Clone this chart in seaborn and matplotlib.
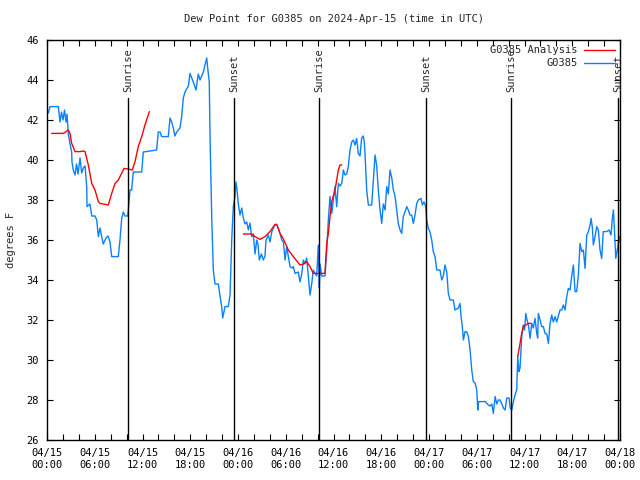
import numpy as np
import pandas as pd
import matplotlib
matplotlib.use("Agg")
import matplotlib.pyplot as plt
import seaborn as sns

# hours since 2024-04-15 00:00 UTC
blue_hours = [0.16, 0.38, 1.42, 1.63, 1.82, 2.01, 2.20, 2.39, 2.51, 2.68, 2.89, 3.10, 3.14, 3.30, 3.52,
              3.71, 3.90, 4.15, 4.36, 4.56, 4.78, 4.99, 5.03, 5.40, 5.62, 6.03, 6.25, 6.45, 6.66, 6.87,
              7.07, 7.41, 7.67, 7.92, 8.13, 8.96, 9.17, 9.39, 9.59, 9.80, 10.14, 10.22, 10.43, 10.64,
              10.84, 11.90, 12.10, 13.78, 13.98, 14.20, 14.41, 15.24, 15.46, 15.67, 15.87, 16.08, 16.30,
              16.71, 16.93, 17.13, 17.34, 17.76, 17.97, 18.38, 18.72, 19.01, 19.23, 19.64, 19.85, 20.07,
              20.19, 20.39, 20.48, 20.57, 20.70, 20.90, 21.11, 21.53, 21.74, 21.95, 22.08, 22.37, 22.78,
              23.00, 23.21, 23.41, 23.62, 23.75, 23.88, 24.04, 24.25, 24.47, 24.67, 24.88, 25.10, 25.30,
              25.51, 25.72, 25.92, 26.14, 26.35, 26.51, 26.68, 26.95, 27.18, 27.39, 27.52, 27.81, 28.02,
              28.24, 28.44, 28.65, 28.87, 29.07, 29.28, 29.50, 29.70, 29.91, 30.12, 30.32, 30.54, 30.75,
              30.95, 31.16, 31.58, 31.79, 32.01, 32.21, 32.42, 32.63, 32.84, 33.05, 33.26, 33.46, 33.68,
              33.89, 34.09, 34.22, 34.31, 34.52, 34.93, 35.15, 35.35, 35.56, 35.78, 35.98, 36.19, 36.40,
              36.61, 36.82, 37.04, 37.24, 37.45, 37.66, 37.86, 38.08, 38.29, 38.49, 38.70, 38.91, 39.11,
              39.33, 39.54, 39.74, 39.87, 39.96, 40.17, 40.38, 40.80, 41.01, 41.22, 41.43, 41.63, 41.85,
              42.06, 42.26, 42.48, 42.69, 42.89, 43.10, 43.32, 43.52, 43.73, 43.94, 44.14, 44.36, 44.57,
              44.77, 44.98, 45.20, 45.40, 45.61, 45.83, 46.03, 46.24, 46.46, 46.66, 47.00, 47.16, 47.37,
              47.59, 47.71, 47.91, 48.13, 48.34, 48.54, 48.76, 48.97, 49.38, 49.60, 49.80, 50.01, 50.23,
              50.43, 50.64, 51.06, 51.27, 51.69, 51.90, 52.03, 52.19, 52.32, 52.53, 52.75, 52.95, 53.16,
              53.37, 53.57, 53.79, 54.00, 54.13, 54.23, 55.06, 55.46, 55.68, 55.89, 56.09, 56.31, 56.52,
              56.72, 56.93, 57.15, 57.35, 57.56, 57.77, 58.06, 58.19, 58.40, 58.60, 58.81, 59.02, 59.15,
              59.31, 59.44, 59.65, 59.85, 60.01, 60.16, 60.32, 60.49, 60.70, 60.91, 61.11, 61.32, 61.54,
              61.66, 61.74, 61.96, 62.17, 62.37, 62.58, 62.80, 63.00, 63.21, 63.42, 63.62, 63.84, 64.05,
              64.25, 64.46, 64.68, 64.88, 65.09, 65.31, 65.51, 65.72, 65.93, 66.14, 66.35, 66.56, 66.77,
              66.98, 67.19, 67.40, 67.61, 67.82, 68.03, 68.24, 68.37, 68.53, 68.65, 68.86, 69.08, 69.28,
              69.49, 69.70, 69.90, 70.33, 70.62, 70.87, 71.04, 71.17, 71.30, 71.47, 71.73, 71.89, 71.95]
blue_dewpt = [42.35, 42.67, 42.67, 41.9, 42.4, 42.0, 42.5, 41.9, 42.3, 41.3, 40.8, 40.4, 39.9, 39.5, 39.25,
              39.8, 39.3, 40.1, 39.35, 39.6, 39.7, 38.67, 37.67, 37.8, 37.2, 37.2, 37.0, 36.17, 36.6, 36.17,
              35.8, 36.1, 36.2, 35.9, 35.17, 35.17, 36.0, 37.1, 37.4, 37.2, 37.2, 37.5, 38.5, 38.5,
              39.4, 39.4, 40.4, 40.5, 41.4, 41.4, 41.17, 41.17, 42.1, 41.9, 41.6, 41.2, 41.4,
              41.6, 42.2, 43.1, 43.4, 43.7, 44.33, 43.9, 43.5, 44.3, 44.0, 44.4, 44.75, 45.1,
              44.6, 43.9, 41.3, 39.6, 37.1, 34.5, 33.8, 33.8, 33.2, 32.67, 32.1, 32.67, 32.67,
              33.25, 36.0, 37.67, 38.17, 38.9, 38.5, 37.8, 37.25, 37.6, 37.1, 36.8, 36.9, 36.5,
              36.85, 36.17, 36.3, 35.3, 36.0, 35.8, 35.0, 35.3, 35.0, 35.2, 36.0, 36.25, 35.9,
              36.4, 36.6, 36.75, 36.75, 36.6, 36.33, 36.0, 35.9, 35.0, 35.67, 35.2, 34.67, 34.6,
              34.67, 34.33, 34.4, 33.9, 34.3, 35.0, 34.8, 35.1, 34.2, 33.25, 33.8, 34.5, 34.33,
              34.2, 35.75, 33.6, 34.8, 34.2, 34.2, 35.5, 37.0, 38.17, 37.33, 38.0, 38.67, 37.67,
              38.83, 38.7, 38.83, 39.5, 39.25, 39.3, 39.67, 40.5, 40.9, 41.0, 40.75, 41.08, 40.33,
              40.2, 41.1, 41.2, 40.9, 40.33, 38.5, 37.75, 37.75, 39.0, 40.25, 39.7, 38.5, 37.5,
              36.83, 37.8, 37.5, 38.67, 38.3, 39.5, 39.1, 38.5, 38.2, 37.5, 36.83, 36.5, 36.33,
              37.17, 37.4, 37.67, 37.5, 37.25, 37.25, 36.83, 37.25, 37.83, 38.0, 38.08, 37.75, 37.9,
              37.67, 37.0, 36.58, 36.4, 36.0, 35.42, 35.17, 34.5, 34.5, 34.0, 34.2, 34.75, 34.4,
              33.33, 33.0, 33.0, 32.5, 32.6, 32.83, 32.17, 31.67, 31.0, 31.42, 31.4, 31.17, 30.5,
              29.5, 28.92, 28.85, 28.5, 27.5, 27.92, 27.92, 27.75, 27.7, 27.8, 27.33, 28.17, 27.8,
              28.0, 28.0, 27.8, 27.6, 27.5, 28.1, 28.1, 27.6, 27.5, 27.9, 28.25, 28.5, 30.17,
              29.42, 29.6, 31.17, 31.75, 31.5, 32.33, 32.0, 31.75, 31.08, 31.83, 31.6, 32.08, 31.33,
              31.1, 32.33, 32.0, 31.67, 31.67, 31.33, 31.3, 30.83, 31.83, 32.25, 31.9, 32.17, 31.9,
              32.2, 32.5, 32.5, 32.75, 32.5, 33.17, 33.58, 33.5, 34.17, 34.75, 33.42, 33.42, 34.25,
              35.83, 35.42, 35.5, 34.58, 36.25, 36.42, 36.75, 37.08, 36.6, 35.75, 36.17, 36.67, 36.5,
              35.5, 35.08, 36.42, 36.42, 36.5, 36.25, 37.08, 37.5, 36.5, 35.08, 35.67, 36.17, 35.9]

red_hours = [0.59, 2.05, 2.68, 2.89, 3.10, 3.52, 4.15, 4.56, 4.78, 5.19, 5.62, 6.03, 6.45, 6.66, 7.70,
             8.13, 8.55, 8.96, 9.68, 10.22, 10.72, 11.06, 11.47, 11.90, 12.31, 12.86,
             24.67, 25.72, 26.14, 26.77, 27.39, 28.02, 28.65, 28.87, 29.28, 29.70, 30.32, 30.95, 31.79,
             32.21, 32.63, 33.05, 33.46, 34.93, 35.15, 35.35, 35.56, 35.78, 36.19, 36.40, 36.61, 36.82, 37.04,
             59.15, 59.44, 59.65, 59.85, 60.16, 60.49, 60.82]
red_dewpt = [41.33, 41.33, 41.5, 41.33, 40.83, 40.42, 40.42, 40.45, 40.42, 39.75, 38.83, 38.5, 37.92, 37.83, 37.75,
             38.33, 38.83, 39.0, 39.58, 39.55, 39.5, 39.92, 40.67, 41.17, 41.75, 42.42,
             36.3, 36.3, 36.17, 36.03, 36.17, 36.42, 36.78, 36.78, 36.33, 36.05, 35.5, 35.17, 34.75,
             34.8, 34.92, 34.67, 34.33, 34.33, 35.83, 36.33, 37.17, 37.92, 38.5, 39.0, 39.5, 39.75, 39.75,
             30.17, 30.83, 31.33, 31.67, 31.75, 31.83, 31.83]
red_run = [0] * 26 + [1] * 27 + [2] * 7

sun_hours = [10.18, 23.55, 34.18, 47.68, 58.35, 71.79]
sun_labels = ["Sunrise", "Sunset", "Sunrise", "Sunset", "Sunrise", "Sunset"]

x_ticks = [0, 6, 12, 18, 24, 30, 36, 42, 48, 54, 60, 66, 72]
x_labels = ["04/15\n00:00", "04/15\n06:00", "04/15\n12:00", "04/15\n18:00",
            "04/16\n00:00", "04/16\n06:00", "04/16\n12:00", "04/16\n18:00",
            "04/17\n00:00", "04/17\n06:00", "04/17\n12:00", "04/17\n18:00",
            "04/18\n00:00"]

sns.set_style("ticks")
plt.rcParams["font.family"] = ["DejaVu Sans Mono"]
plt.rcParams["font.size"] = 7.5

fig = plt.figure(figsize=(6.4, 4.8), dpi=100)
ax = fig.add_axes([47 / 640, 40 / 480, 573 / 640, 400 / 480])

blue_df = pd.DataFrame({"hours": blue_hours, "dewpt": blue_dewpt})
red_df = pd.DataFrame({"hours": red_hours, "dewpt": red_dewpt, "run": red_run})

sns.lineplot(data=red_df, x="hours", y="dewpt", units="run", estimator=None, sort=False,
             color="#ff0000", linewidth=1.0, ax=ax, label="G0385 Analysis", zorder=3)
sns.lineplot(data=blue_df, x="hours", y="dewpt", sort=False, color="#0a80ff",
             linewidth=1.0, ax=ax, label="G0385", zorder=2)

for h, lab in zip(sun_hours, sun_labels):
    ax.plot([h, h], [26, 43.1], color="black", linewidth=1.0, zorder=4)
    ax.text(h, 43.4, lab, rotation=90, ha="center", va="bottom", fontsize=7.5, clip_on=False)

ax.set_xlim(0, 72)
ax.set_ylim(26, 46)
ax.set_xticks(x_ticks)
ax.set_xticklabels(x_labels)
ax.set_xticks(np.arange(0, 73, 2), minor=True)
ax.set_yticks(np.arange(26, 47, 2))
ax.tick_params(axis="both", which="both", direction="in", length=4, width=0.8,
               top=True, right=True, labelsize=7.5, colors="black")
ax.tick_params(axis="x", which="major", pad=6)
ax.tick_params(axis="y", which="major", pad=6)
for s in ax.spines.values():
    s.set_linewidth(1.0)
    s.set_color("black")

ax.set_xlabel("")
ax.set_ylabel("degrees F", fontsize=7.5, labelpad=7)
ax.set_title("Dew Point for G0385 on 2024-Apr-15 (time in UTC)", fontsize=7.5, pad=13)

# one legend entry per series (the red series has several runs)
handles, labels = ax.get_legend_handles_labels()
uniq = dict(zip(labels, handles))
leg = ax.legend(list(uniq.values()), list(uniq.keys()), loc="upper right", frameon=False,
                markerfirst=False, handlelength=3.0, handletextpad=0.6, labelspacing=0.3,
                borderaxespad=0.1, fontsize=7.5)

fig.savefig("out.png", dpi=100)
